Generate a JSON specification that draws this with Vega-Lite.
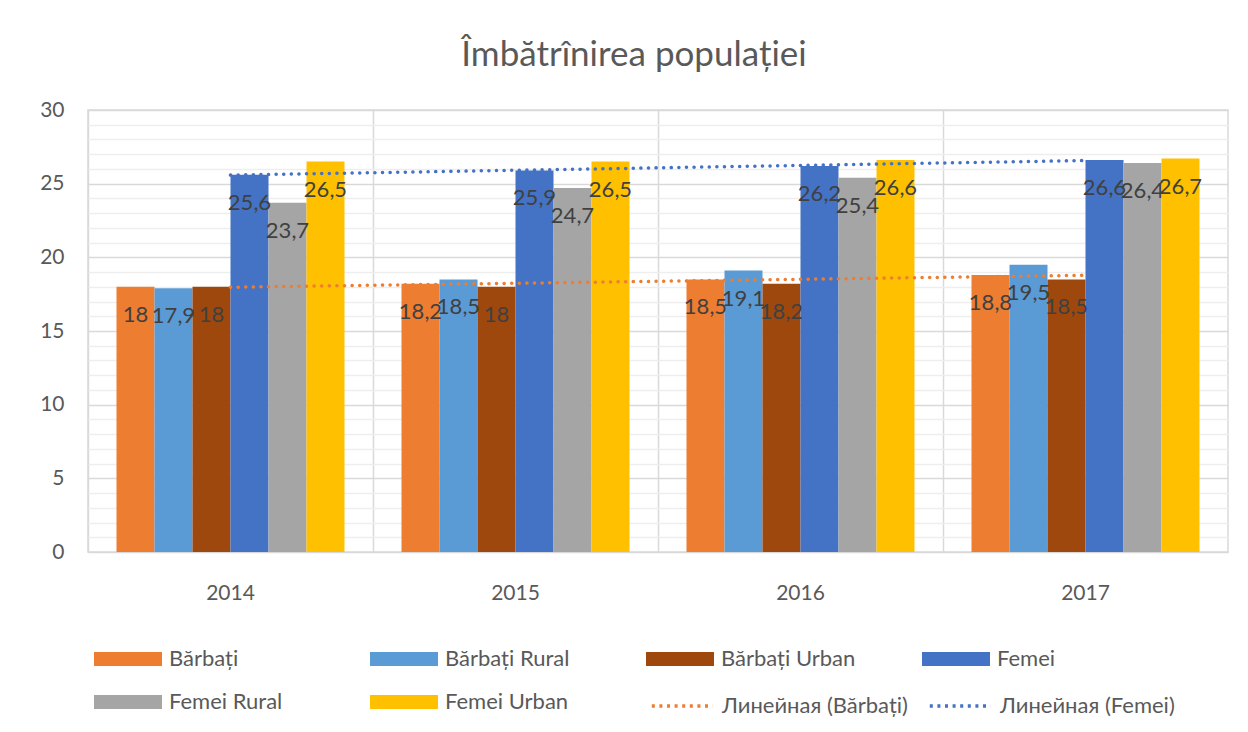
{
  "$schema": "https://vega.github.io/schema/vega-lite/v6.json",
  "width": 1140,
  "height": 442,
  "autosize": {"type": "none"},
  "padding": {"left": 88, "top": 110, "right": 20, "bottom": 180},
  "background": "white",
  "title": {"text": "Îmbătrînirea populației", "fontSize": 35, "font": "Lato", "fontWeight": "normal", "color": "#595959", "anchor": "middle", "frame": "group", "dx": -24, "offset": 26},
  "config": {
    "locale": {"number": {"decimal": ",", "thousands": " ", "grouping": [3], "currency": ["", ""]}},
    "font": "Lato",
    "view": {"stroke": "#d9d9d9", "strokeWidth": 1.5}
  },
  "datasets": {
    "bars": [
      {"year": "2014", "series": "Bărbați", "value": 18},
      {"year": "2014", "series": "Bărbați Rural", "value": 17.9},
      {"year": "2014", "series": "Bărbați Urban", "value": 18},
      {"year": "2014", "series": "Femei", "value": 25.6},
      {"year": "2014", "series": "Femei Rural", "value": 23.7},
      {"year": "2014", "series": "Femei Urban", "value": 26.5},
      {"year": "2015", "series": "Bărbați", "value": 18.2},
      {"year": "2015", "series": "Bărbați Rural", "value": 18.5},
      {"year": "2015", "series": "Bărbați Urban", "value": 18},
      {"year": "2015", "series": "Femei", "value": 25.9},
      {"year": "2015", "series": "Femei Rural", "value": 24.7},
      {"year": "2015", "series": "Femei Urban", "value": 26.5},
      {"year": "2016", "series": "Bărbați", "value": 18.5},
      {"year": "2016", "series": "Bărbați Rural", "value": 19.1},
      {"year": "2016", "series": "Bărbați Urban", "value": 18.2},
      {"year": "2016", "series": "Femei", "value": 26.2},
      {"year": "2016", "series": "Femei Rural", "value": 25.4},
      {"year": "2016", "series": "Femei Urban", "value": 26.6},
      {"year": "2017", "series": "Bărbați", "value": 18.8},
      {"year": "2017", "series": "Bărbați Rural", "value": 19.5},
      {"year": "2017", "series": "Bărbați Urban", "value": 18.5},
      {"year": "2017", "series": "Femei", "value": 26.6},
      {"year": "2017", "series": "Femei Rural", "value": 26.4},
      {"year": "2017", "series": "Femei Urban", "value": 26.7}
    ],
    "trend": [
      {"year": "2014", "series": "Линейная (Bărbați)", "value": 17.97},
      {"year": "2015", "series": "Линейная (Bărbați)", "value": 18.24},
      {"year": "2016", "series": "Линейная (Bărbați)", "value": 18.51},
      {"year": "2017", "series": "Линейная (Bărbați)", "value": 18.78},
      {"year": "2014", "series": "Линейная (Femei)", "value": 25.58},
      {"year": "2015", "series": "Линейная (Femei)", "value": 25.91},
      {"year": "2016", "series": "Линейная (Femei)", "value": 26.24},
      {"year": "2017", "series": "Линейная (Femei)", "value": 26.57}
    ]
  },
  "encoding": {
    "x": {
      "field": "year", "type": "nominal",
      "scale": {"paddingInner": 0.2, "paddingOuter": 0.1},
      "axis": {"title": null, "labelAngle": 0, "labelFontSize": 21, "labelColor": "#595959", "labelPadding": 30, "ticks": false, "domain": false, "grid": true, "bandPosition": -0.125, "gridColor": "#d9d9d9", "gridWidth": 1.5}
    },
    "y": {
      "field": "value", "type": "quantitative",
      "scale": {"domain": [0, 30], "nice": false, "zero": true},
      "axis": {
        "title": null,
        "values": [0,1,2,3,4,5,6,7,8,9,10,11,12,13,14,15,16,17,18,19,20,21,22,23,24,25,26,27,28,29,30],
        "labelExpr": "datum.value % 5 == 0 ? datum.label : ''",
        "labelFontSize": 21, "labelColor": "#595959", "labelPadding": 24,
        "ticks": false, "domain": false, "grid": true,
        "gridColor": {"condition": {"test": "datum.value % 5 == 0", "value": "#d9d9d9"}, "value": "#eeeeee"},
        "gridWidth": 1.5
      }
    }
  },
  "layer": [
    {
      "data": {"name": "bars"},
      "mark": {"type": "bar"},
      "encoding": {
        "xOffset": {"field": "series", "type": "nominal", "sort": ["Bărbați", "Bărbați Rural", "Bărbați Urban", "Femei", "Femei Rural", "Femei Urban"], "scale": {"paddingInner": 0, "paddingOuter": 0}},
        "color": {
          "field": "series", "type": "nominal",
          "scale": {
            "domain": ["Bărbați", "Bărbați Rural", "Bărbați Urban", "Femei", "Femei Rural", "Femei Urban"],
            "range": ["#ED7D31", "#5B9BD5", "#9E480E", "#4472C4", "#A5A5A5", "#FFC000"]
          },
          "legend": {
            "orient": "none", "legendX": 2, "legendY": 538,
            "direction": "horizontal", "columns": 4, "title": null,
            "labelFontSize": 22, "labelColor": "#595959", "labelOffset": 57,
            "columnPadding": 62, "rowPadding": 21, "gridAlign": "all", "labelLimit": 400,
            "symbolSize": 196, "symbolType": "M-1,-1H8.714V1H-1Z", "symbolStrokeWidth": 0
          }
        }
      }
    },
    {
      "data": {"name": "trend"},
      "mark": {"type": "line", "strokeDash": [0.1, 7.5], "strokeCap": "round", "strokeWidth": 3.5},
      "encoding": {
        "stroke": {
          "field": "series", "type": "nominal",
          "scale": {"domain": ["Линейная (Bărbați)", "Линейная (Femei)"], "range": ["#ED7D31", "#4472C4"]},
          "legend": {
            "orient": "none", "legendX": 557, "legendY": 585,
            "direction": "horizontal", "columns": 2, "title": null,
            "labelFontSize": 22, "labelColor": "#595959", "labelOffset": 55,
            "columnPadding": 14, "gridAlign": "all", "labelLimit": 400,
            "symbolSize": 196, "symbolType": "M-0.6,0H8.1", "symbolStrokeWidth": 3.5, "symbolDash": [3, 4.6], "symbolFillColor": "transparent", "symbolOpacity": 1
          }
        }
      }
    },
    {
      "data": {"name": "bars"},
      "mark": {"type": "text", "baseline": "middle", "dy": 28, "fontSize": 22, "color": "#404040"},
      "encoding": {
        "xOffset": {"field": "series", "type": "nominal", "sort": ["Bărbați", "Bărbați Rural", "Bărbați Urban", "Femei", "Femei Rural", "Femei Urban"]},
        "text": {"field": "value", "type": "quantitative", "format": ".3~r"}
      }
    }
  ]
}
